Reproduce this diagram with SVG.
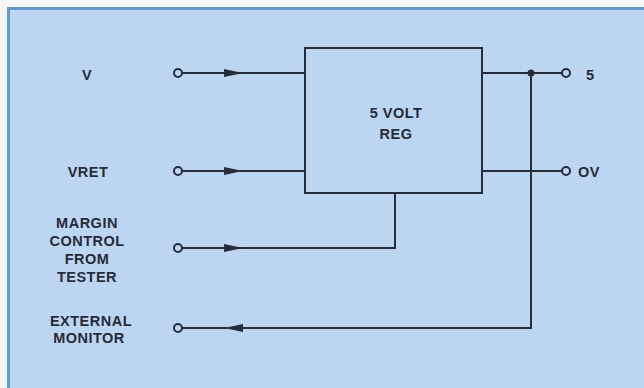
<svg xmlns="http://www.w3.org/2000/svg" width="644" height="388" viewBox="0 0 644 388">
<style>
.ln{stroke:#262c38;stroke-width:2;fill:none}
.term{stroke:#262c38;stroke-width:2;fill:#bcd6f1}
.t{font-family:"Liberation Sans",Arial,sans-serif;font-weight:bold;font-size:14.5px;fill:#262b36;letter-spacing:0.5px;text-anchor:middle}
.ts{font-family:"Liberation Sans",Arial,sans-serif;font-weight:bold;font-size:14.5px;fill:#262b36;letter-spacing:0.5px}
.ah{fill:#262c38}
</style>
<rect x="0" y="0" width="644" height="388" fill="#f4f6f8"/>
<rect x="8.5" y="8.5" width="640" height="386" fill="#bcd6f1" stroke="#5b9ad6" stroke-width="3"/>
<g id="connectors">
<line class="ln" x1="182" y1="73" x2="305" y2="73"/>
<polygon class="ah" points="224,69 243,73 224,77"/>
<line class="ln" x1="182" y1="171" x2="305" y2="171"/>
<polygon class="ah" points="224,167 243,171 224,175"/>
<polyline class="ln" points="182,248 395,248 395,193"/>
<polygon class="ah" points="224,244 243,248 224,252"/>
<line class="ln" x1="482" y1="73" x2="562" y2="73"/>
<line class="ln" x1="482" y1="171" x2="562" y2="171"/>
<polyline class="ln" points="531,73 531,328 182,328"/>
<polygon class="ah" points="243,324 224,328 243,332"/>
<circle cx="531" cy="73" r="3.5" fill="#262c38"/>
</g>
<g id="reg">
<rect class="ln" x="305" y="48" width="177" height="145"/>
<text class="t" x="396" y="118">5 VOLT</text>
<text class="t" x="396" y="139">REG</text>
</g>
<g id="in-v">
<circle class="term" cx="178" cy="73" r="4"/>
<text class="t" x="87" y="80">V</text>
</g>
<g id="in-vret">
<circle class="term" cx="178" cy="171" r="4"/>
<text class="t" x="88" y="177">VRET</text>
</g>
<g id="in-margin">
<circle class="term" cx="178" cy="248" r="4"/>
<text class="t" x="87" y="228">MARGIN</text>
<text class="t" x="87" y="246">CONTROL</text>
<text class="t" x="87" y="264">FROM</text>
<text class="t" x="87" y="282">TESTER</text>
</g>
<g id="out-monitor">
<circle class="term" cx="178" cy="328" r="4"/>
<text class="t" x="91" y="326">EXTERNAL</text>
<text class="t" x="89" y="343">MONITOR</text>
</g>
<g id="out-5">
<circle class="term" cx="566" cy="73" r="4"/>
<text class="ts" x="586" y="80">5</text>
</g>
<g id="out-0v">
<circle class="term" cx="566" cy="171" r="4"/>
<text class="ts" x="578" y="177">OV</text>
</g>
</svg>
